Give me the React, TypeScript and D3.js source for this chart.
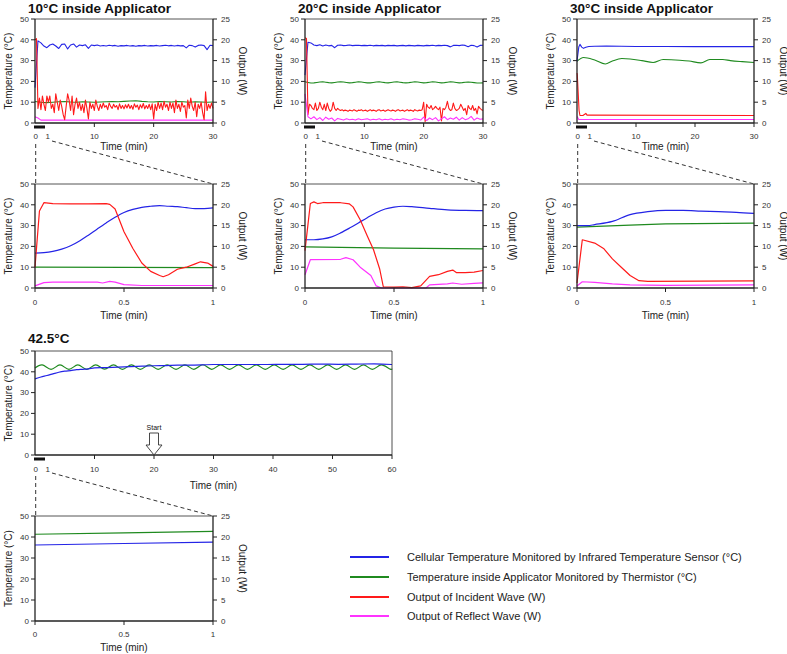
import React from 'react';
import * as d3 from 'd3';

const FONT = '"Liberation Sans", Arial, sans-serif';
const COL = { blue: '#2424e6', green: '#1f8a1f', red: '#ff1a1a', magenta: '#ff33ff' };

const tempTicks = [0, 10, 20, 30, 40, 50];
const outTicks = [0, 5, 10, 15, 20, 25];
const longTicks30 = [10, 20, 30];
const longTicks60 = [10, 20, 30, 40, 50, 60];
const zoomTicks = [0, 0.5, 1];
const zoomTickLabels = ['0', '0.5', '1'];
const titles = ['10°C inside Applicator', '20°C inside Applicator', '30°C inside Applicator', '42.5°C'];
const legendLabels = [
  'Cellular Temperature Monitored by Infrared Temperature Sensor (°C)',
  'Temperature inside Applicator Monitored by Thermistor (°C)',
  'Output of Incident Wave (W)',
  'Output of Reflect Wave (W)',
];

// ---------- 30-min panels ----------
// 10°C
const p1Blue = [17, 39.5, 38.5, 37, 36.2, 37.5, 38, 37, 35.8, 37.8, 38, 35.6, 37.5, 38, 36.5, 37.5, 37.2, 37.6, 35.9, 37.5, 37.2, 37.5, 37, 37.3, 37, 37.4, 37.1, 37.3, 36.9, 37.2, 37.1, 37.3, 37, 37.2, 36.9, 37.2, 37.1, 37.3, 37, 37.2, 37.1, 37.3, 37, 37.2, 37.4, 37.1, 37.3, 37, 37.3, 37.1, 37.2, 36.1, 37.4, 37.2, 36.5, 37.3, 37.5, 37.2, 35.3, 37.4, 37.2];
const p1Green = [10.3, 10, 9.8, 10, 10.2, 10.3, 10.1, 10, 10.2, 10.1, 10, 10.1, 10.2, 10.3, 10.2, 10.4, 10.6, 10.7, 10.4, 10.2, 10.1, 10.3, 10.2, 10.1, 10.3, 10.2, 10, 10.2, 10.1, 10, 10.1];
const p1Red = [20, 20.3, 3.5, 6, 3.2, 6.5, 4.5, 3, 6.5, 5, 6.5, 3.5, 4.5, 2.5, 7, 5, 3, 5.5, 4, 2, 0.8, 4, 7, 5.5, 3, 6.5, 2, 4.5, 6, 3.5, 5, 3, 4.5, 2.5, 5.5, 3.5, 1, 5, 3.5, 4.5, 3, 5.5, 4, 3, 4.5, 3.5, 4.8, 3.8, 4.2, 3.2, 4.8, 4, 3.5, 4.5, 3.8, 4.2, 3.2, 4.6, 3.5, 4.2, 3.4, 4.4, 3.6, 4.5, 3.5, 4.2, 3.3, 4.6, 3.8, 4.3, 3.2, 4.4, 3.6, 4.7, 3.4, 4.2, 3.5, 4.5, 3.2, 4.6, 1, 4.5, 3, 5, 3.5, 4.8, 3.2, 5.2, 3.8, 4.5, 3, 5, 3.5, 4.8, 2.5, 5.5, 3.5, 4.5, 2.8, 5, 3.8, 4.2, 1.2, 5.5, 3.5, 6, 4, 3, 5, 1.5, 4.5, 3.5, 5, 2.5, 0.8, 7.5, 3, 4.5, 3.5, 4.8, 3.5];
const p1MagT = [0, 0.5, 1, 30];
const p1Mag = [1.5, 1.2, 0.7, 0.7];
// 20°C
const p2Blue = [23, 38.8, 38.5, 37.5, 37.2, 37.6, 37, 37.5, 37.1, 37.3, 36.2, 37.4, 37.5, 37.2, 37.3, 37.5, 37.2, 37.3, 37.4, 37.2, 37.3, 37.2, 37.4, 37.1, 37.3, 37.2, 37.3, 37.1, 37.3, 37.2, 37.3, 37.1, 37.2, 37.3, 37.1, 37.3, 37.2, 37.1, 37.3, 37.2, 37.1, 37.3, 37.2, 37.4, 37.1, 37.3, 37.2, 37.4, 37.2, 36.6, 37.3, 37.4, 37.2, 37.5, 37.3, 36.7, 37.4, 37.2, 36.5, 37.3, 37.4];
const p2Green = [19.8, 19.5, 19.2, 19.3, 19.5, 19.7, 19.8, 19.6, 19.4, 19.3, 19.5, 19.7, 19.8, 19.7, 19.5, 19.3, 19.4, 19.6, 19.8, 19.7, 19.5, 19.3, 19.3, 19.5, 19.7, 19.8, 19.6, 19.4, 19.3, 19.5, 19.7, 19.8, 19.6, 19.4, 19.3, 19.4, 19.6, 19.8, 19.7, 19.5, 19.3, 19.4, 19.6, 19.8, 19.7, 19.5, 19.3, 19.4, 19.6, 19.8, 19.7, 19.5, 19.3, 19.4, 19.6, 19.7, 19.6, 19.4, 19.2, 19.2, 19.3];
const p2Red = [20.5, 20.3, 2, 4.5, 4.2, 3.5, 3.2, 4.8, 3, 3.5, 5, 3.8, 3.2, 4.5, 3, 4.8, 3.5, 2.8, 3.2, 5, 3.5, 3, 3.5, 3.2, 3, 3.2, 2.9, 3.1, 3, 2.8, 3.1, 3, 2.9, 3.2, 3, 2.8, 3.1, 3, 3.2, 2.9, 3, 3.1, 2.8, 3, 3.2, 2.9, 3.1, 3, 2.8, 3.1, 3.2, 2.9, 3, 3.1, 2.8, 3, 3.2, 3, 2.9, 3.1, 3, 2.8, 3.1, 3.2, 2.9, 3, 3.1, 2.8, 3, 3.2, 2.9, 3.1, 3, 2.8, 3.2, 3, 2.9, 3.1, 3, 3.2, 5, 0.3, 4.5, 3.8, 3.5, 4.2, 3.2, 3.5, 4, 3.5, 3.2, 3.8, 0.5, 3.5, 3.2, 3.8, 5.2, 3.5, 3, 3.2, 4.8, 3.5, 3, 3.2, 3.5, 4.5, 3.8, 3, 3.5, 2, 4.2, 3.5, 3.2, 4.2, 3, 3.5, 2.2, 4, 3.5, 3.2, 3];
const p2Mag = [7, 1.5, 1, 1.5, 0.8, 1.3, 0.6, 1.4, 0.9, 1.2, 0.5, 1.1, 0.9, 0.7, 1, 0.8, 0.9, 0.7, 1, 0.8, 0.9, 1, 0.7, 0.9, 0.8, 1, 0.7, 0.9, 0.8, 1, 0.7, 0.9, 0.8, 1, 0.9, 0.7, 0.8, 1, 0.9, 0.7, 1.4, 0.6, 1.2, 0.8, 1.3, 0.5, 1, 1.5, 0.8, 1.2, 0.9, 1.4, 0.7, 1.3, 0.8, 1, 1.6, 0.7, 1.2, 0.9, 1];
// 30°C
const p3BlueT = [0, 0.3, 0.5, 0.8, 1.1, 1.5, 2, 3, 5, 10, 15, 20, 25, 29, 30];
const p3Blue = [29.7, 36.5, 37.8, 36.5, 35.9, 36.4, 36.8, 36.9, 37, 36.8, 36.8, 36.7, 36.7, 36.8, 36.7];
const p3GreenT = [0, 1.1, 3, 4.8, 6, 7.6, 9, 11, 12.9, 14.6, 17.4, 19, 21, 22.5, 24.7, 26, 28, 30];
const p3Green = [29.7, 31.5, 30.3, 28.4, 29.8, 31, 30.8, 30, 29.1, 30.5, 30.2, 29.8, 28.9, 30.5, 30.5, 30, 29.5, 29.1];
const p3RedT = [0, 0.05, 0.35, 0.5, 1, 1.5, 1.7, 2, 30];
const p3Red = [12, 11.6, 3, 1.8, 1.8, 2.3, 1.9, 1.9, 1.8];
const p3MagT = [0, 0.05, 0.3, 0.5, 30];
const p3Mag = [1.5, 1.5, 0.85, 0.85, 0.85];

// ---------- first-minute panels ----------
const p4BlueT = [0, 0.05, 0.1, 0.15, 0.2, 0.25, 0.3, 0.35, 0.4, 0.45, 0.5, 0.55, 0.6, 0.65, 0.7, 0.75, 0.8, 0.85, 0.9, 0.95, 1];
const p4Blue = [16.8, 17, 17.6, 18.7, 20.3, 22.6, 25.4, 28.4, 31.3, 34, 36.3, 37.8, 38.8, 39.3, 39.6, 39.3, 39.1, 38.6, 38.2, 38.2, 38.5];
const p4GreenT = [0, 1];
const p4Green = [10, 9.8];
const p4RedT = [0, 0.025, 0.05, 0.1, 0.2, 0.3, 0.4, 0.42, 0.45, 0.5, 0.55, 0.6, 0.65, 0.7, 0.72, 0.75, 0.8, 0.85, 0.9, 0.93, 0.97, 1];
const p4Red = [5, 18.5, 20.5, 20.3, 20.2, 20.2, 20.3, 20.1, 19, 13.5, 9.5, 6, 4, 3, 2.7, 3.2, 4.5, 5, 5.8, 6.3, 6, 5.2];
const p4MagT = [0, 0.05, 0.1, 0.35, 0.38, 0.42, 0.45, 0.5, 0.6, 1];
const p4Mag = [0.5, 1.3, 1.4, 1.4, 1.2, 1.6, 1.4, 0.8, 0.6, 0.6];

const p5BlueT = [0, 0.05, 0.1, 0.15, 0.2, 0.25, 0.3, 0.35, 0.4, 0.45, 0.5, 0.55, 0.6, 0.7, 0.8, 0.9, 1];
const p5Blue = [23.2, 23.2, 23.6, 24.6, 26.5, 28.8, 31.3, 33.8, 36.2, 38, 38.9, 39.3, 39.1, 38.3, 37.6, 37.3, 37.2];
const p5GreenT = [0, 0.5, 1];
const p5Green = [19.8, 19.2, 18.8];
const p5RedT = [0, 0.03, 0.05, 0.07, 0.1, 0.2, 0.25, 0.27, 0.31, 0.35, 0.385, 0.42, 0.44, 0.5, 0.55, 0.6, 0.65, 0.7, 0.75, 0.8, 0.83, 0.85, 0.9, 0.95, 1];
const p5Red = [9, 20.3, 20.7, 20.3, 20.5, 20.5, 20.2, 19.5, 16.4, 12.5, 9.2, 4.5, 0.3, 0.2, 0.3, 0.1, 0.5, 2.8, 3.2, 4, 4.3, 3.7, 3.7, 3.8, 4.2];
const p5MagT = [0, 0.03, 0.2, 0.23, 0.27, 0.31, 0.37, 0.4, 0.43, 0.68, 0.7, 0.8, 0.83, 0.88, 0.95, 1];
const p5Mag = [3.2, 6.8, 6.9, 7.3, 6.8, 5, 3, 0.5, 0, 0, 0.75, 1, 1.2, 0.9, 1.1, 1.25];

const p6BlueT = [0, 0.06, 0.1, 0.2, 0.3, 0.4, 0.5, 0.6, 0.7, 0.8, 0.9, 1];
const p6Blue = [30, 30, 30.5, 32, 35.3, 36.7, 37.3, 37.3, 37, 36.7, 36.4, 35.9];
const p6GreenT = [0, 0.3, 0.5, 1];
const p6Green = [29.3, 30.2, 30.8, 31.2];
const p6RedT = [0, 0.03, 0.1, 0.15, 0.2, 0.25, 0.3, 0.35, 0.4, 1];
const p6Red = [1.2, 11.6, 10.8, 9.5, 7, 5, 3, 1.75, 1.6, 1.7];
const p6MagT = [0, 0.03, 0.1, 0.2, 0.3, 0.5, 1];
const p6Mag = [0.5, 1.5, 1.35, 1, 0.75, 0.65, 0.75];

// ---------- 42.5°C ----------
const p7BlueT = [0, 1, 2, 3, 4, 5, 6, 7, 8, 9, 10, 12, 14, 16, 18, 20, 22, 24, 26, 28, 30, 33, 36, 39, 42, 45, 48, 51, 54, 57, 60];
const p7Blue = [36.6, 37.5, 38.2, 39, 39.8, 40.3, 40.6, 41, 41.2, 41.4, 41.9, 42, 42.2, 42.5, 42.7, 42.9, 43, 43.2, 43.2, 43.3, 43.5, 43.5, 43.5, 43.5, 43.6, 43.6, 43.7, 43.6, 43.7, 43.8, 43.5];
const p7GreenT = [0, 1.2, 2.7, 4.2, 5.7, 7.2, 8.7, 10.2, 11.7, 13.2, 14.7, 16.2, 17.7, 19.2, 20.7, 22.2, 23.7, 25.2, 26.7, 28.2, 29.7, 31.2, 32.7, 34.2, 35.7, 37.2, 38.7, 40.2, 41.7, 43.2, 44.7, 46.2, 47.7, 49.2, 50.7, 52.2, 53.7, 55.2, 56.7, 58.2, 59.7, 60];
const p7Green = [41.8, 43.3, 41.2, 43.3, 41.2, 43.3, 41.2, 43.3, 41.3, 43.3, 41.2, 43.3, 41.2, 43.3, 41.2, 43.3, 41.2, 43.3, 41.2, 43.4, 41.2, 43.3, 41.2, 43.3, 41.2, 43.3, 41.2, 43.3, 41.2, 43.3, 41.2, 43.3, 41.2, 43.3, 41.2, 43.3, 41.2, 43.3, 41.2, 43.3, 41.3, 41.5];
const p8T = [0, 0.5, 1];
const p8Blue = [36.2, 36.9, 37.6];
const p8Green = [41.3, 42, 42.7];

type Pt = [number, number];
type Series = { color: string; axis: 'L' | 'R'; pts: Pt[]; curve?: any };
const byStep = (vals: number[], step: number): Pt[] => vals.map((v, i) => [i * step, v]);
const byTime = (ts: number[], vals: number[]): Pt[] => vals.map((v, i) => [ts[i], v]);

const S = (color: string, axis: 'L' | 'R', pts: Pt[], curve?: any): Series => ({ color, axis, pts, curve });

type PanelProps = {
  x0: number; x1: number; yT: number; yB: number; xMax: number;
  series: Series[]; right: boolean; long: boolean; ticks: number[]; tickLabels?: string[];
  labelDy: number; titleDy: number; lw: number;
};

function Panel(p: PanelProps) {
  const x = d3.scaleLinear().domain([0, p.xMax]).range([p.x0, p.x1]);
  const yL = d3.scaleLinear().domain([0, 50]).range([p.yB, p.yT]);
  const yR = d3.scaleLinear().domain([0, 25]).range([p.yB, p.yT]);
  const cy = (p.yT + p.yB) / 2;
  const cx = (p.x0 + p.x1) / 2;
  const fs = 8;
  return (
    <g>
      {p.series.map((s, i) => {
        const ys = s.axis === 'L' ? yL : yR;
        const line = d3.line<Pt>().x(d => x(d[0])).y(d => ys(d[1])).curve(s.curve || d3.curveLinear);
        return <path key={i} d={line(s.pts) || ''} fill="none" stroke={s.color} strokeWidth={p.lw} strokeLinejoin="round" />;
      })}
      {/* frame */}
      <line x1={p.x0} x2={p.x1} y1={p.yT} y2={p.yT} stroke="#555" strokeWidth={1} />
      <line x1={p.x0} x2={p.x1} y1={p.yB} y2={p.yB} stroke="#222" strokeWidth={1.3} />
      <line x1={p.x0} x2={p.x0} y1={p.yT} y2={p.yB} stroke="#222" strokeWidth={1.3} />
      <line x1={p.x1} x2={p.x1} y1={p.yT} y2={p.yB} stroke="#222" strokeWidth={p.right ? 1.3 : 0.8} />
      {/* left axis */}
      {tempTicks.map(t => (
        <g key={'l' + t}>
          <line x1={p.x0 - 4} x2={p.x0} y1={yL(t)} y2={yL(t)} stroke="#222" />
          <text x={p.x0 - 6} y={yL(t)} dy="0.35em" textAnchor="end" fontSize={fs} fill="#333">{t}</text>
        </g>
      ))}
      <text transform={`translate(${p.x0 - 27},${cy}) rotate(-90)`} textAnchor="middle" dy="0.35em" fontSize={10} fill="#222">Temperature (°C)</text>
      {p.right && outTicks.map(t => (
        <g key={'r' + t}>
          <line x1={p.x1} x2={p.x1 + 4} y1={yR(t)} y2={yR(t)} stroke="#222" />
          <text x={p.x1 + 8} y={yR(t)} dy="0.35em" textAnchor="start" fontSize={fs} fill="#333">{t}</text>
        </g>
      ))}
      {p.right && (
        <text transform={`translate(${p.x1 + 29},${cy}) rotate(90)`} textAnchor="middle" dy="0.35em" fontSize={10} fill="#222">Output (W)</text>
      )}
      {/* bottom axis */}
      {p.long && (
        <g>
          <rect x={p.x0 - 1} y={p.yB + 2.5} width={11} height={3} fill="#111" />
          <text x={p.x0 + 0.7} y={p.yB + p.labelDy} dy="0.35em" textAnchor="middle" fontSize={fs} fill="#333">0</text>
          <text x={p.x0 + 12.7} y={p.yB + p.labelDy} dy="0.35em" textAnchor="middle" fontSize={fs} fill="#333">1</text>
        </g>
      )}
      {p.ticks.map((t, i) => (
        <g key={'b' + t}>
          <line x1={x(t)} x2={x(t)} y1={p.yB} y2={p.yB + 4} stroke="#222" />
          <text x={x(t)} y={p.yB + p.labelDy} dy="0.35em" textAnchor="middle" fontSize={fs} fill="#333">{p.tickLabels ? p.tickLabels[i] : t}</text>
        </g>
      ))}
      <text x={cx} y={p.yB + p.titleDy} dy="0.35em" textAnchor="middle" fontSize={10} fill="#222">Time (min)</text>
    </g>
  );
}

function Connector({ x0, x1, yFrom, yTo }: { x0: number; x1: number; yFrom: number; yTo: number }) {
  return (
    <g stroke="#333" strokeWidth={1} strokeDasharray="4,3" fill="none">
      <line x1={x0 + 0.7} x2={x0 + 0.7} y1={yFrom + 3} y2={yTo} />
      <line x1={x0 + 17} x2={x1} y1={yFrom} y2={yTo} />
    </g>
  );
}

export default function App() {
  const cols: [number, number][] = [[35, 213], [305, 483], [577, 754]];
  const topSeries: Series[][] = [
    [S(COL.green, 'L', byStep(p1Green, 1)), S(COL.blue, 'L', byStep(p1Blue, 0.5)), S(COL.magenta, 'R', byTime(p1MagT, p1Mag)), S(COL.red, 'R', byStep(p1Red, 0.25))],
    [S(COL.green, 'L', byStep(p2Green, 0.5)), S(COL.blue, 'L', byStep(p2Blue, 0.5)), S(COL.red, 'R', byStep(p2Red, 0.25)), S(COL.magenta, 'R', byStep(p2Mag, 0.5))],
    [S(COL.green, 'L', byTime(p3GreenT, p3Green), d3.curveMonotoneX), S(COL.blue, 'L', byTime(p3BlueT, p3Blue)), S(COL.magenta, 'R', byTime(p3MagT, p3Mag)), S(COL.red, 'R', byTime(p3RedT, p3Red))],
  ];
  const midSeries: Series[][] = [
    [S(COL.green, 'L', byTime(p4GreenT, p4Green)), S(COL.blue, 'L', byTime(p4BlueT, p4Blue), d3.curveMonotoneX), S(COL.magenta, 'R', byTime(p4MagT, p4Mag)), S(COL.red, 'R', byTime(p4RedT, p4Red))],
    [S(COL.green, 'L', byTime(p5GreenT, p5Green)), S(COL.blue, 'L', byTime(p5BlueT, p5Blue), d3.curveMonotoneX), S(COL.magenta, 'R', byTime(p5MagT, p5Mag)), S(COL.red, 'R', byTime(p5RedT, p5Red))],
    [S(COL.green, 'L', byTime(p6GreenT, p6Green)), S(COL.blue, 'L', byTime(p6BlueT, p6Blue), d3.curveMonotoneX), S(COL.magenta, 'R', byTime(p6MagT, p6Mag)), S(COL.red, 'R', byTime(p6RedT, p6Red))],
  ];
  const p7Series: Series[] = [
    S(COL.green, 'L', byTime(p7GreenT, p7Green), d3.curveCardinal),
    S(COL.blue, 'L', byTime(p7BlueT, p7Blue), d3.curveMonotoneX),
  ];
  const p8Series: Series[] = [
    S(COL.green, 'L', byTime(p8T, p8Green)),
    S(COL.blue, 'L', byTime(p8T, p8Blue)),
  ];
  const x7 = d3.scaleLinear().domain([0, 60]).range([35, 392]);
  const legendColors = [COL.blue, COL.green, COL.red, COL.magenta];
  const legendY = [557, 577, 597, 616];

  return (
    <svg width={787} height={654} style={{ position: 'absolute', left: 0, top: 0, fontFamily: FONT }}>
      <rect width={787} height={654} fill="#fff" />
      {cols.map(([a, b], i) => (
        <g key={'top' + i}>
          <text x={a - 7} y={12.5} fontSize={13.5} fontWeight="bold" fill="#111">{titles[i]}</text>
          <Panel x0={a} x1={b} yT={19} yB={123} xMax={30} series={topSeries[i]} right long ticks={longTicks30} labelDy={13} titleDy={23} lw={1.1} />
          <Connector x0={a} x1={b} yFrom={141} yTo={184} />
          <Panel x0={a} x1={b} yT={184} yB={288} xMax={1} series={midSeries[i]} right long={false} ticks={zoomTicks} tickLabels={zoomTickLabels} labelDy={14} titleDy={27} lw={1.2} />
        </g>
      ))}
      <text x={28} y={342.5} fontSize={13.5} fontWeight="bold" fill="#111">{titles[3]}</text>
      <Panel x0={35} x1={392} yT={351} yB={455} xMax={60} series={p7Series} right={false} long ticks={longTicks60} labelDy={14} titleDy={30} lw={1.2} />
      {/* Start arrow */}
      <g>
        <text x={x7(20)} y={428} dy="0.35em" textAnchor="middle" fontSize={7} fill="#111">Start</text>
        <path
          d={`M${x7(20) - 4.5},433 L${x7(20) + 4.5},433 L${x7(20) + 4.5},445 L${x7(20) + 8},445 L${x7(20)},455 L${x7(20) - 8},445 L${x7(20) - 4.5},445 Z`}
          fill="#fff" stroke="#333" strokeWidth={0.9}
        />
      </g>
      <Connector x0={35} x1={213} yFrom={473} yTo={516} />
      <Panel x0={35} x1={213} yT={516} yB={621} xMax={1} series={p8Series} right long={false} ticks={zoomTicks} tickLabels={zoomTickLabels} labelDy={13} titleDy={26} lw={1.2} />
      {/* legend */}
      {legendLabels.map((l, i) => (
        <g key={'lg' + i}>
          <line x1={350} x2={389} y1={legendY[i]} y2={legendY[i]} stroke={legendColors[i]} strokeWidth={2} />
          <text x={407} y={legendY[i]} dy="0.35em" fontSize={11} fill="#222">{l}</text>
        </g>
      ))}
    </svg>
  );
}
